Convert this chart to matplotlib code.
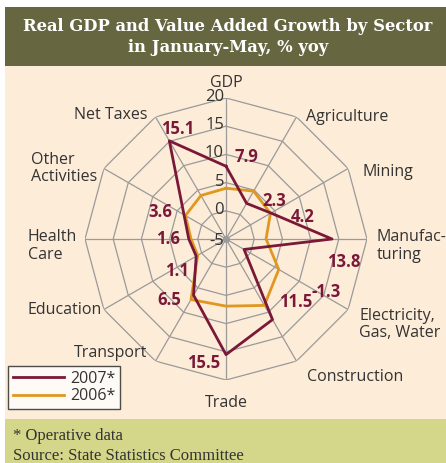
import numpy as np
import matplotlib.pyplot as plt
from matplotlib.patches import Rectangle
from matplotlib.lines import Line2D

# sectors, clockwise from the top
sectors = ["GDP", "Agriculture", "Mining", "Manufac-\nturing", "Electricity,\nGas, Water",
           "Construction", "Trade", "Transport", "Education", "Health\nCare",
           "Other\nActivities", "Net Taxes"]
y2007 = [7.9, 2.3, 4.2, 13.8, -1.3, 11.5, 15.5, 6.5, 1.1, 1.6, 3.6, 15.1]
y2006 = [4.0, 4.8, 4.1, 2.1, 5.8, 8.6, 6.9, 7.4, 0.8, 1.2, 3.3, 3.9]
rings = [0, 5, 10, 15, 20]
r_ticks = [20, 15, 10, 5, 0, -5]

# label placement (pixel offsets from outer vertex / from data point)
cat_offsets = [(0, 15), (10, 0), (14, -3), (10, -7), (11, -15), (10, -16),
               (0, -23), (-8, 8), (-2, 0), (-8, -7), (-7, 0), (-8, 2)]
cat_ha = ["center", "left", "left", "left", "left", "left",
          "center", "right", "right", "right", "right", "right"]
val_offsets = [(20, 9), (28, 2), (32, -4), (12, -23), (82, -43), (23, 18),
               (-22, -8), (-24, -5), (-19, -15), (-21, 0), (-24, 3), (8, 12)]

C2007 = "#7a1838"
C2006 = "#e0971f"
GRID = "#9a9a9a"
TXT = "#333333"

W, H = 446, 463
fig = plt.figure(figsize=(W / 100, H / 100), dpi=100)
fig.patch.set_facecolor("white")

# background panels
fig.add_artist(Rectangle((5 / W, 1 - 66 / H), 1, 59 / H, transform=fig.transFigure,
                         facecolor="#666641", edgecolor="none", zorder=0))
fig.add_artist(Rectangle((5 / W, 1 - 419 / H), 1, 353 / H, transform=fig.transFigure,
                         facecolor="#fdecd8", edgecolor="none", zorder=0))
fig.add_artist(Rectangle((5 / W, 0), 1, 1 - 419 / H, transform=fig.transFigure,
                         facecolor="#d4d78a", edgecolor="none", zorder=0))

fig.text(228 / W, 1 - 37 / H, "Real GDP and Value Added Growth by Sector\nin January-May, % yoy",
         ha="center", va="center", color="white", fontsize=11.8, fontweight="bold",
         family="DejaVu Serif", linespacing=1.35)
fig.text(13 / W, 1 - 436 / H, "* Operative data", ha="left", va="center",
         color=TXT, fontsize=12, family="Liberation Serif")
fig.text(13 / W, 1 - 456 / H, "Source: State Statistics Committee", ha="left", va="center",
         color=TXT, fontsize=12, family="Liberation Serif")

# polar axes: centre (226, 239) px, radius 141 px
cx, cy, R = 226, 239, 141
ax = fig.add_axes([(cx - R) / W, 1 - (cy + R) / H, 2 * R / W, 2 * R / H], projection="polar")
ax.set_facecolor("none")
ax.set_theta_zero_location("N")
ax.set_theta_direction(-1)
ax.set_ylim(-5, 20)
ax.grid(False)
ax.spines["polar"].set_visible(False)
ax.set_xticks([])
ax.set_yticks([])

n = len(sectors)
theta = np.linspace(0, 2 * np.pi, n, endpoint=False)
closed = np.append(theta, theta[0])

for r in rings:
    ax.plot(closed, [r] * (n + 1), color=GRID, lw=0.9, zorder=1)
for t in theta:
    ax.plot([t, t], [-5, 20], color=GRID, lw=0.9, zorder=1)
ax.plot([0], [-5], "o", color=GRID, ms=4, zorder=1)

for v in r_ticks:
    ax.annotate(str(v), xy=(0, v), xytext=(-2, -2 if v == -5 else 1),
                textcoords="offset pixels", ha="right", va="center",
                fontsize=12, color=TXT, family="Open Sans", zorder=3)

ax.plot(closed, y2006 + [y2006[0]], color=C2006, lw=2, zorder=4, label="2006*")
ax.plot(closed, y2007 + [y2007[0]], color=C2007, lw=2, zorder=5, label="2007*")

for t, name, off, ha in zip(theta, sectors, cat_offsets, cat_ha):
    ax.annotate(name, xy=(t, 20), xytext=off, textcoords="offset pixels",
                ha=ha, va="center", multialignment="left", fontsize=11.5,
                color=TXT, family="Open Sans", linespacing=1.1, annotation_clip=False)

for t, v, off in zip(theta, y2007, val_offsets):
    ax.annotate(f"{v:.1f}", xy=(t, v), xytext=off, textcoords="offset pixels",
                ha="center", va="center", fontsize=12, fontweight="bold",
                color=C2007, family="Open Sans", zorder=6, annotation_clip=False)

handles = [Line2D([], [], color=C2007, lw=2), Line2D([], [], color=C2006, lw=2)]
leg = fig.legend(handles, ["2007*", "2006*"], loc="upper left",
                 bbox_to_anchor=(8 / W, 1 - 366 / H), frameon=True, fancybox=False,
                 prop={"family": "Open Sans", "size": 11.5}, handlelength=3.2,
                 handletextpad=0.4, labelspacing=0.1, borderpad=0.3, borderaxespad=0)
leg.get_frame().set_edgecolor("#222222")
leg.get_frame().set_linewidth(1)
for txt in leg.get_texts():
    txt.set_color(TXT)

fig.savefig("out.png", dpi=100)
